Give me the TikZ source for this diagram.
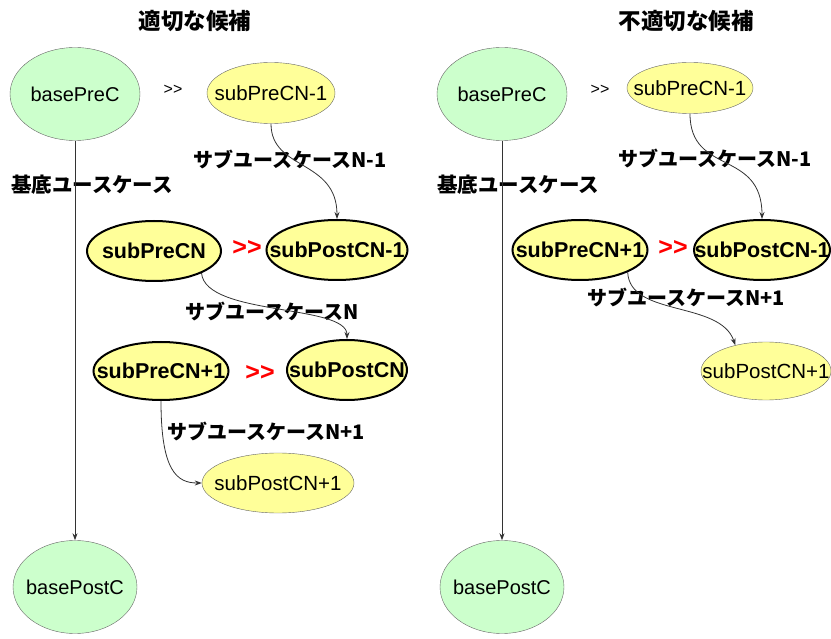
\documentclass[tikz,border=0pt]{standalone}
\usepackage{fontspec}
\setmainfont{Liberation Sans}
\newfontfamily\jp{Noto Sans CJK JP}
\usetikzlibrary{shapes.geometric, arrows.meta}
\definecolor{BaseGreen}{RGB}{204,255,204}
\definecolor{SubYellow}{RGB}{255,255,153}
\newcommand\el[1]{\makebox[0pt]{#1}}
\newcommand\then{\textcolor{red}{\bfseries >{}>}}

\begin{document}
\begin{tikzpicture}[x=1pt, y=-1pt,
  basenode/.style={ellipse, draw=black!60, fill=BaseGreen, inner sep=0pt,
    minimum width=130pt, minimum height=93pt, font=\fontsize{20}{24}\selectfont},
  subnode/.style={ellipse, draw=black!60, fill=SubYellow, inner sep=0pt,
    minimum height=60pt, font=\fontsize{20.5}{24}\selectfont},
  subbold/.style={subnode, draw=black, line width=2pt, font=\bfseries\fontsize{21.5}{24}\selectfont},
  uclabel/.style={font=\jp\bfseries\fontsize{20}{22}\selectfont},
  baselabel/.style={font=\jp\bfseries\fontsize{20.5}{22}\selectfont},
  title/.style={font=\jp\bfseries\fontsize{22.5}{26}\selectfont},
  gt/.style={font=\fontsize{16}{18}\selectfont},
  redgt/.style={font=\fontsize{25}{26}\selectfont},
  flow/.style={-{Stealth[length=7pt,width=5pt]}, black!80, line width=0.8pt}]
\useasboundingbox (0,0) rectangle (831,639);

% left: suitable candidate
\node[title] (titleL) at (195,21) {適切な候補};
\node[basenode] (bpreL) at (75,94) {\el{basePreC}};
\node[gt] (gtL) at (173,90) {>{}>};
\node[subnode, minimum width=128pt, minimum height=61pt] (sprevL) at (271,93) {\el{subPreCN-1}};
\node[subbold, minimum width=134pt] (spreL) at (154,251) {\el{subPreCN}};
\node[redgt] (thenL1) at (247,248) {\then};
\node[subbold, minimum width=141pt] (spostprevL) at (337,250) {\el{subPostCN-1}};
\node[subbold, minimum width=135pt, minimum height=58pt] (snextL) at (161,371) {\el{subPreCN+1}};
\node[redgt] (thenL2) at (260,373) {\then};
\node[subbold, minimum width=120pt] (spostL) at (347,370) {\el{subPostCN}};
\node[subnode, minimum width=152pt] (spostnextL) at (278,483) {\el{subPostCN+1}};
\node[basenode, minimum width=124pt] (bpostL) at (75,587) {\el{basePostC}};

\node[baselabel] (ucL) at (92,185) {基底ユースケース};
\node[uclabel] (ucprevL) at (290,159) {サブユースケースN-1};
\node[uclabel] (ucL1) at (272,311) {サブユースケースN};
\node[uclabel] (ucnextL) at (266,431) {サブユースケースN+1};

\draw[flow] (bpreL.south) -- (bpostL.north);
\draw[flow] (sprevL.south) .. controls +(0,47) and +(0,-60) .. (spostprevL.north);
\draw[flow] (spreL.-25) .. controls +(4,43) and +(0,-35) .. (spostL.north);
\draw[flow] (snextL.south) .. controls +(0,70) and +(-25,0) .. (spostnextL.west);

% right: unsuitable candidate
\node[title] (titleR) at (686,21) {不適切な候補};
\node[basenode] (bpreR) at (502,94) {\el{basePreC}};
\node[gt] (gtR) at (600,90) {>{}>};
\node[subnode, minimum width=126pt, minimum height=51pt] (sprevR) at (690,88) {\el{subPreCN-1}};
\node[subbold, minimum width=135pt] (snextR) at (580,250) {\el{subPreCN+1}};
\node[redgt] (thenR) at (673,248) {\then};
\node[subbold, minimum width=136pt] (spostprevR) at (762,250) {\el{subPostCN-1}};
\node[subnode, minimum width=130pt, minimum height=58pt] (spostnextR) at (766,371) {\el{subPostCN+1}};
\node[basenode, minimum width=124pt] (bpostR) at (502,587) {\el{basePostC}};

\node[baselabel] (ucR) at (518,185) {基底ユースケース};
\node[uclabel] (ucprevR) at (715,158) {サブユースケースN-1};
\node[uclabel] (ucnextR) at (686,297) {サブユースケースN+1};

\draw[flow] (bpreR.south) -- (bpostR.north);
\draw[flow] (sprevR.south) .. controls +(0,62) and +(0,-70) .. (spostprevR.north);
\draw[flow] (snextR.-25) .. controls +(2,45) and +(-15,-45) .. (spostnextR.140);
\end{tikzpicture}
\end{document}
